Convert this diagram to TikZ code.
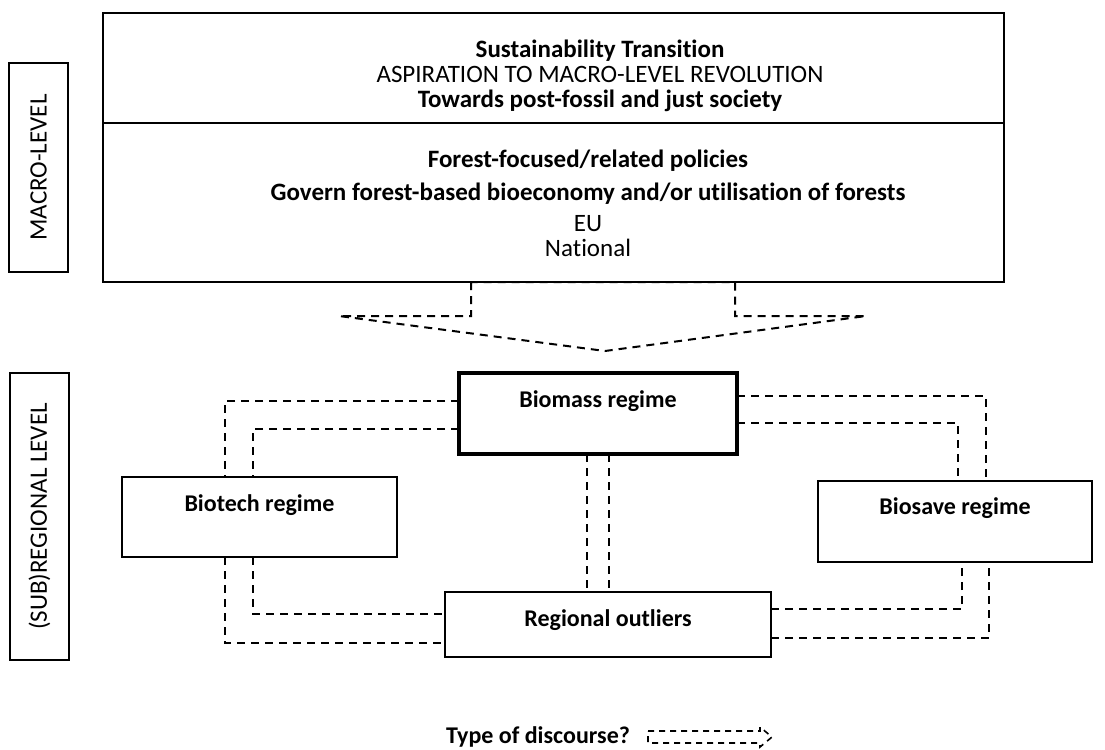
\documentclass[tikz,border=0pt]{standalone}
\usepackage{fontspec}
\setmainfont{Carlito}[Ligatures=NoCommon]
\newcommand{\figfont}{\fontsize{12}{12}\selectfont}
\newcommand{\macrofont}{\fontsize{12.5}{12.5}\selectfont}

\tikzset{
  plainbox/.style={draw, line width=0.6pt, inner sep=0pt, outer sep=0pt},
  levelbox/.style={plainbox, rotate=90, minimum height=29.5pt, font=\macrofont},
  regime/.style={plainbox, anchor=north, font=\figfont\bfseries},
  link/.style={line width=1pt, dash pattern=on 4pt off 3pt},
}

\begin{document}
\begin{tikzpicture}[x=0.5pt, y=-0.5pt, font=\figfont]
\useasboundingbox (0,0) rectangle (1105,750);

% Levels
\node[levelbox, minimum width=104.5pt] (macro) at (38.5,167.5) {MACRO-LEVEL};
\node[levelbox, minimum width=143.5pt] (regional) at (39.5,516.5) {(SUB)REGIONAL LEVEL};

% Macro-level
\node[plainbox, minimum width=450.5pt, minimum height=55pt] (transition) at (553.5,68) {};
\node[plainbox, minimum width=450.5pt, minimum height=79.5pt] (policies) at (553.5,202.5) {};

\node[align=center, font=\macrofont] (transitiontext) at (600,76)
  {\textbf{Sustainability Transition}\\
   ASPIRATION TO MACRO-LEVEL REVOLUTION\\
   \textbf{Towards post-fossil and just society}};
\node[align=center, font=\macrofont] (policiestext) at (588,203)
  {\textbf{Forest-focused/related policies}\\[4pt]
   \textbf{Govern forest-based bioeconomy and/or utilisation of forests}\\[3pt]
   EU\\
   National};

\draw[link] (471,282) -- (471,316) -- (339,316) -- (605,351) -- (866,316) -- (735,316) -- (735,282) -- cycle;

% Regimes
\node[regime, line width=2pt, minimum width=139pt, text height=17pt, text depth=23.5pt] (biomass) at (598,373) {Biomass regime};
\node[regime, minimum width=137.5pt, text height=17pt, text depth=23pt] (biotech) at (259.5,477) {Biotech regime};
\node[regime, minimum width=137pt, text height=16.5pt, text depth=24pt] (biosave) at (955,481) {Biosave regime};
\node[regime, minimum width=163pt, text height=17pt, text depth=15.5pt] (outliers) at (608,592) {Regional outliers};

% Discourses
\draw[link] ([yshift=-14pt]biomass.north west) -| ([xshift=51.5pt]biotech.north west);
\draw[link] ([yshift=-28pt]biomass.north west) -| ([xshift=65.5pt]biotech.north west);
\draw[link] ([xshift=65.5pt]biotech.south west) |- ([yshift=-11pt]outliers.north west);
\draw[link] ([xshift=51.5pt]biotech.south west) |- ([yshift=-25.5pt]outliers.north west);

\foreach \dx in {64,75}
{
    \draw[link] ([xshift=\dx pt]biomass.south west) -- ([xshift=\dx pt]biomass.south west |- outliers.north);
}

\draw[link] ([yshift=-11.5pt]biomass.north east) -| ([xshift=84pt]biosave.north west);
\draw[link] ([yshift=-25pt]biomass.north east) -| ([xshift=70pt]biosave.north west);
\draw[link] ([yshift=-8.5pt]outliers.north east) -| ([xshift=72pt]biosave.south west);
\draw[link] ([yshift=-22.75pt]outliers.north east) -| ([xshift=85.5pt]biosave.south west);

% Legend
\node[anchor=east, font=\figfont\bfseries] (legend) at (637,737) {Type of discourse?};
\draw[link, line width=0.8pt, dash pattern=on 3pt off 2.5pt] (648,731) -- (760,731) -- (760,727) -- (772,737) -- (760,747) -- (760,743) -- (648,743) -- cycle;

\end{tikzpicture}
\end{document}
